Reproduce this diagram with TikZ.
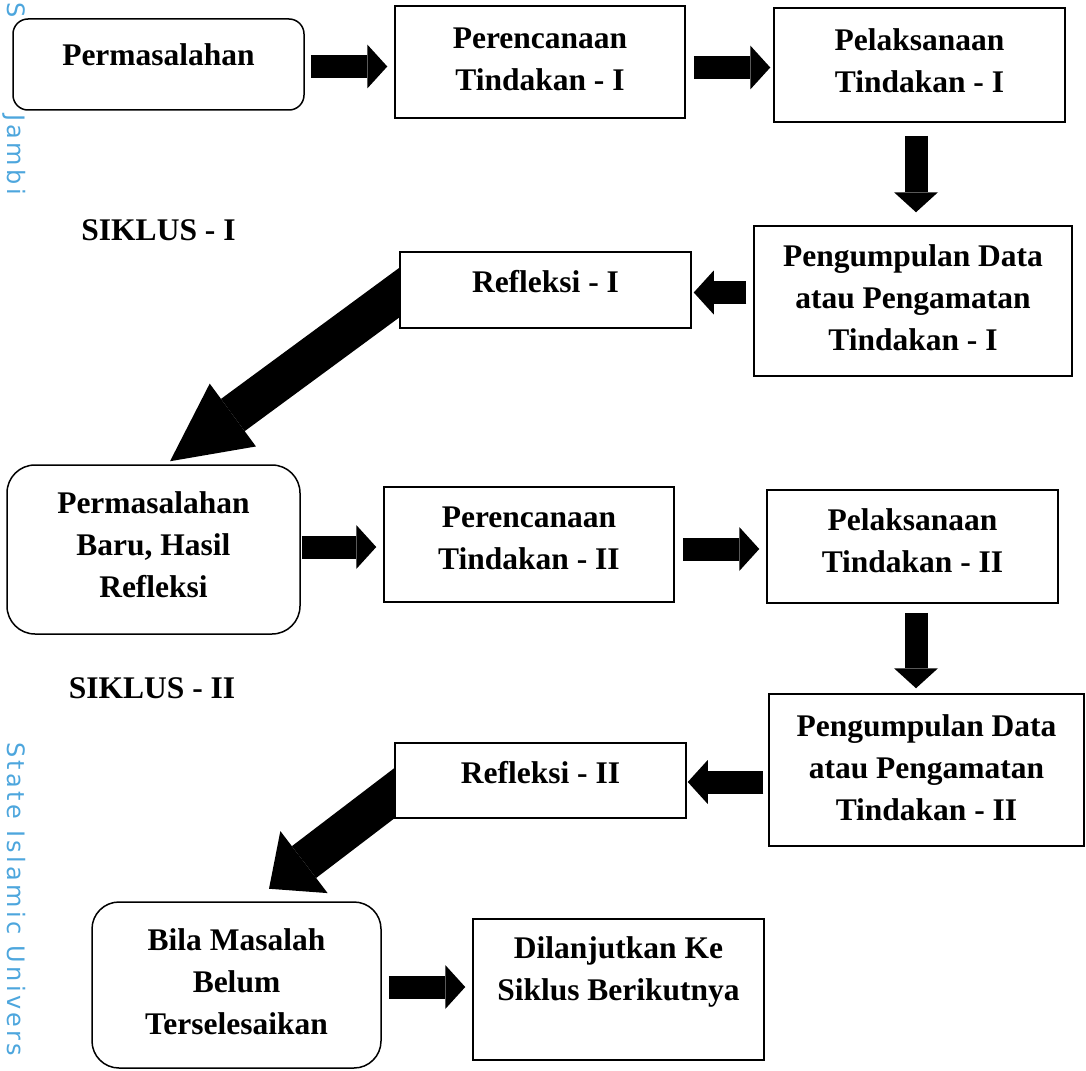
\documentclass[tikz,border=0pt]{standalone}
\usepackage{fontspec}
\setmainfont{Liberation Serif}
\newfontfamily\wmfont[LetterSpace=14]{DejaVu Sans}
\usepackage{tikz}
\usetikzlibrary{positioning, calc, arrows.meta, backgrounds}
\definecolor{wmblue}{RGB}{77,166,221}

\begin{document}
\begin{tikzpicture}[
                x=1pt,
                y=-1pt,
                box/.style={
                    draw=black,
                    line width=1.5pt,
                    fill=white,
                    inner sep=0pt,
                },
                rbox/.style={
                    box,
                    rounded corners=#1,
                },
                txt/.style={
                    inner sep=0pt,
                    align=center,
                    font=\fontsize{31.5}{42}\selectfont\bfseries,
                },
                wm/.style={
                    rotate=-90,
                    anchor=base west,
                    inner sep=0pt,
                    text=wmblue,
                    font=\wmfont\fontsize{24}{30}\selectfont,
                },
                fat/.style={
                    line width=23pt,
                    -{Triangle[length=20pt, width=44pt, line width=0pt]},
                },
                diag/.style={
                    line width=40pt,
                    -{Triangle[length=#1, width=78pt, line width=0pt]},
                },
            ]
            \useasboundingbox (0,0) rectangle (1086,1070);

            % siklus I
            \node [rbox=15pt, minimum width=291pt, minimum height=91pt] (perm1) at (158.5,64.5) {};
            \node [box, minimum width=290pt, minimum height=112pt] (plan1) at (540,62) {};
            \node [box, minimum width=291pt, minimum height=114pt] (act1) at (919.5,65) {};
            \node [box, minimum width=318pt, minimum height=150pt] (obs1) at (913,301) {};
            \node [box, minimum width=291pt, minimum height=76pt] (refl1) at (545.5,290) {};

            \node [txt, below=25pt of perm1.north] (perm1txt) {Permasalahan};
            \node [txt, below=22pt of plan1.north] (plan1txt) {Perencanaan\\Tindakan - I};
            \node [txt, below=21pt of act1.north] (act1txt) {Pelaksanaan\\Tindakan - I};
            \node [txt, below=19pt of obs1.north] (obs1txt) {Pengumpulan Data\\atau Pengamatan\\Tindakan - I};
            \node [txt, below=19pt of refl1.north] (refl1txt) {Refleksi - I};
            \node [txt, anchor=base] (cyc1) at (158.5,240) {SIKLUS - I};

            % siklus II
            \node [rbox=28pt, minimum width=293pt, minimum height=169pt] (perm2) at (153.5,549.5) {};
            \node [box, minimum width=290pt, minimum height=115pt] (plan2) at (529,544.5) {};
            \node [box, minimum width=291pt, minimum height=113pt] (act2) at (912.5,546.5) {};
            \node [box, minimum width=315pt, minimum height=152pt] (obs2) at (926.5,770) {};
            \node [box, minimum width=291pt, minimum height=75pt] (refl2) at (540.5,780.5) {};

            \node [txt, below=27pt of perm2.north] (perm2txt) {Permasalahan\\Baru, Hasil\\Refleksi};
            \node [txt, below=20pt of plan2.north] (plan2txt) {Perencanaan\\Tindakan - II};
            \node [txt, below=19pt of act2.north] (act2txt) {Pelaksanaan\\Tindakan - II};
            \node [txt, below=21pt of obs2.north] (obs2txt) {Pengumpulan Data\\atau Pengamatan\\Tindakan - II};
            \node [txt, below=19pt of refl2.north] (refl2txt) {Refleksi - II};
            \node [txt, anchor=base] (cyc2) at (152,698) {SIKLUS - II};

            % lanjut
            \node [rbox=27pt, minimum width=289pt, minimum height=166pt] (next) at (236.5,985) {};
            \node [box, minimum width=291pt, minimum height=141pt] (cont) at (618.5,989.5) {};

            \node [txt, below=27pt of next.north] (nexttxt) {Bila Masalah\\Belum\\Terselesaikan};
            \node [txt, below=18pt of cont.north] (conttxt) {Dilanjutkan Ke\\Siklus Berikutnya};

            \begin{scope}[on background layer]
                \node [wm] (wmtop) at (7,2) {S};
                \node [wm] (wmjambi) at (7,114) {Jambi};
                \node [wm] (wmuniv) at (7,742) {State Islamic Univers};

                \draw [fat] ($(perm1.east)+(6,2)$) -- ($(plan1.west)+(-7,4.5)$);
                \draw [fat] ($(plan1.east)+(8,5.5)$) -- ($(act1.west)+(-3,2.5)$);
                \draw [fat] ($(act1.south)+(-3.5,13)$) -- ($(obs1.north)+(3,-13)$);
                \draw [fat] ($(obs1.west)+(-7,-8.5)$) -- ($(refl1.east)+(2,2.5)$);
                \draw [diag=78pt] ($(refl1.west)+(24,-15)$) -- ($(perm2.north)+(16.5,-3)$);

                \draw [fat] ($(perm2.east)+(1,-2.5)$) -- ($(plan2.west)+(-7,2.5)$);
                \draw [fat] ($(plan2.east)+(8,4.5)$) -- ($(act2.west)+(-7,2.5)$);
                \draw [fat] ($(act2.south)+(3.5,9)$) -- ($(obs2.north)+(-10.5,-5)$);
                \draw [fat] ($(obs2.west)+(-5,12)$) -- ($(refl2.east)+(1,1.5)$);
                \draw [diag=44pt] ($(refl2.west)+(24,-5.5)$) -- ($(next.north)+(32.5,-12.5)$);

                \draw [fat] ($(next.east)+(7,2)$) -- ($(cont.west)+(-7,-2.5)$);
            \end{scope}
\end{tikzpicture}
\end{document}
